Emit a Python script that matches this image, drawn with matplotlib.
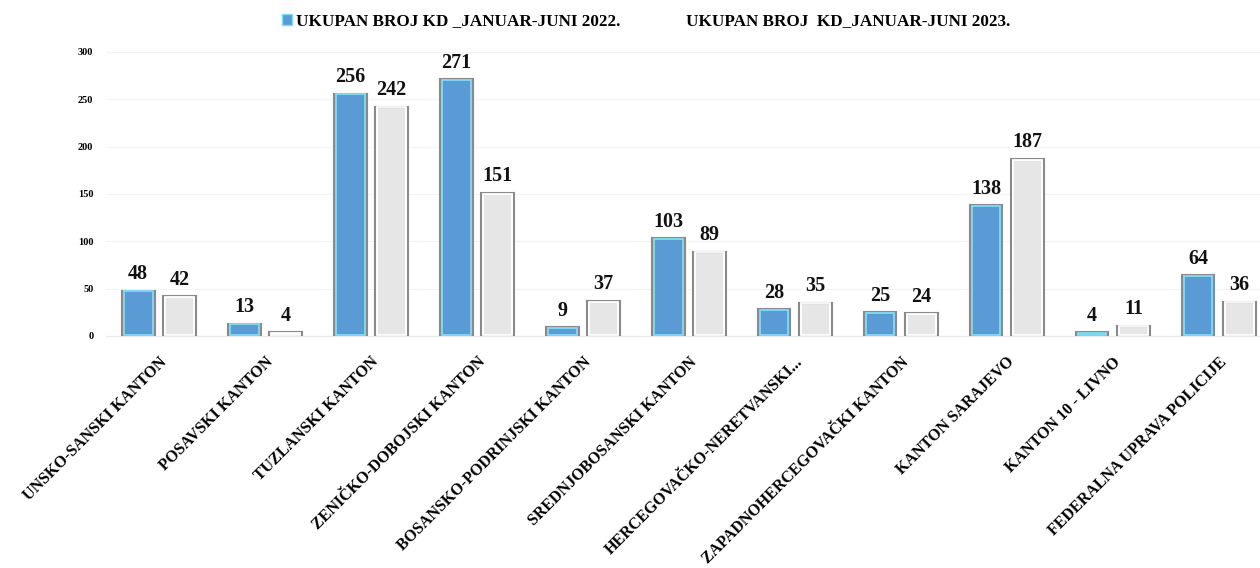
import matplotlib.pyplot as plt
import numpy as np
from matplotlib.patches import Patch

kantoni = ['UNSKO-SANSKI KANTON', 'POSAVSKI KANTON', 'TUZLANSKI KANTON',
           'ZENIČKO-DOBOJSKI KANTON', 'BOSANSKO-PODRINJSKI KANTON',
           'SREDNJOBOSANSKI KANTON', 'HERCEGOVAČKO-NERETVANSKI...',
           'ZAPADNOHERCEGOVAČKI KANTON', 'KANTON SARAJEVO', 'KANTON 10 - LIVNO',
           'FEDERALNA UPRAVA POLICIJE']
kd_2022 = [48, 13, 256, 271, 9, 103, 28, 25, 138, 4, 64]
kd_2023 = [42, 4, 242, 151, 37, 89, 35, 24, 187, 11, 36]
naziv_2022 = 'UKUPAN BROJ KD _JANUAR-JUNI 2022.'
naziv_2023 = 'UKUPAN BROJ  KD_JANUAR-JUNI 2023.'
y_ticks = [0, 50, 100, 150, 200, 250, 300]

plt.rcParams['font.family'] = ['Liberation Serif', 'DejaVu Serif']
plt.rcParams['font.weight'] = 'bold'

fig = plt.figure(figsize=(12.6, 5.68), dpi=100)
ax = fig.add_axes([0.084, 0.4085, 0.916, 0.5])

x = np.arange(len(kantoni))
w = 0.31
pomak = 0.195
px = 1 / 106  # jedan piksel u jedinicama x ose


def crtaj_stupce(pos, vrijednosti, boja, sjaj):
    ax.bar(pos, vrijednosti, w, color=boja, edgecolor='#8a8a8a', linewidth=1.5, zorder=3)
    # unutrasnji svijetli rub
    ax.bar(pos, np.array(vrijednosti) - 1.2, w - 4 * px, bottom=0.6, fill=False,
           edgecolor=sjaj, linewidth=1.3, zorder=4)
    for xi, v in zip(pos, vrijednosti):
        ax.text(xi, v + 7, str(v), ha='center', va='bottom', fontsize=14.5,
                fontweight='bold', color='#111111', zorder=5)


crtaj_stupce(x - pomak, kd_2022, '#5B9BD5', '#7fdcf7')
crtaj_stupce(x + pomak, kd_2023, '#E6E6E6', '#ffffff')

ax.set_xlim(-0.5, 10.39)
ax.set_ylim(0, 300)
ax.set_yticks(y_ticks)
ax.set_yticklabels([str(t) for t in y_ticks], fontsize=7.5, fontweight='bold')
ax.tick_params(axis='y', length=0, pad=9)
ax.set_xticks(x)
ax.set_xticklabels(kantoni, rotation=45, ha='right', rotation_mode='anchor',
                   fontsize=11.5, fontweight='bold')
ax.tick_params(axis='x', length=0, pad=13)
ax.grid(axis='y', color='#f3f3f3', linewidth=0.8, zorder=0)
for s in ['top', 'right', 'left']:
    ax.spines[s].set_visible(False)
ax.spines['bottom'].set_color('#e8e8e8')

rucke = [Patch(facecolor='#5B9BD5', edgecolor='#7fdcf7', label=naziv_2022),
         Patch(facecolor='#ffffff', edgecolor='#ffffff', label=naziv_2023)]
fig.legend(handles=rucke, loc='center', bbox_to_anchor=(0.5127, 0.962), ncol=2,
           frameon=False, fontsize=12.3, handlelength=0.58, handleheight=0.58,
           handletextpad=0.23, columnspacing=3.05)

fig.savefig('out.png', dpi=100)
